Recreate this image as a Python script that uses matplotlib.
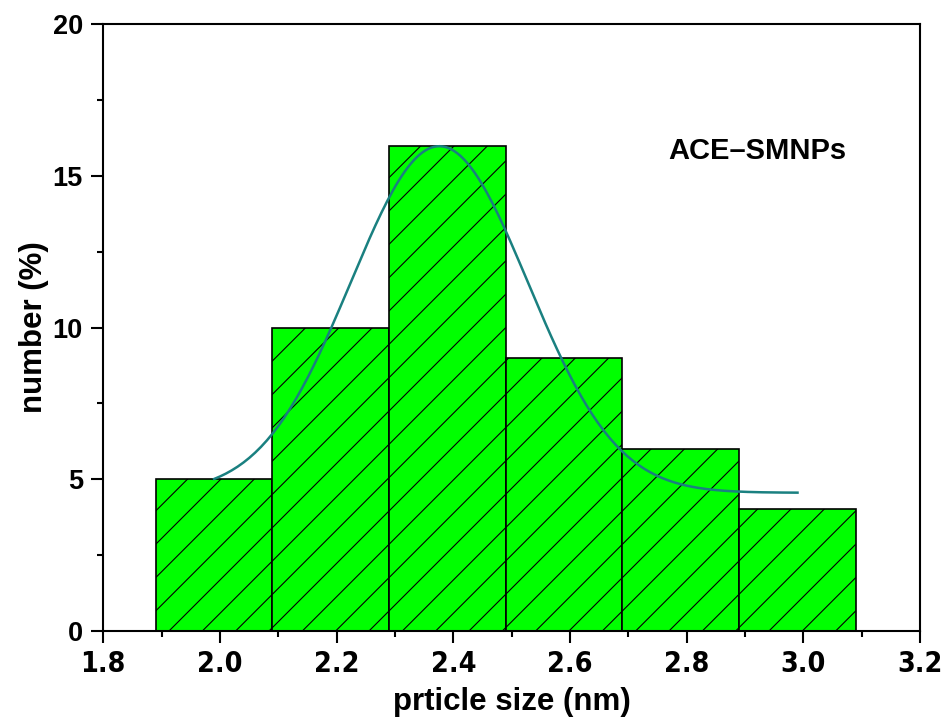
import numpy as np
from matplotlib import pyplot as plt
from matplotlib import font_manager
from matplotlib.ticker import MultipleLocator

# histogram bins (centres, nm) and counts (%)
bin_centres = [1.99, 2.19, 2.39, 2.59, 2.79, 2.99]
bin_width = 0.2
number_pct = [5, 10, 16, 9, 6, 4]

# Gauss fit: y0 + A*exp(-(x-xc)^2 / (2 w^2))
fit_y0 = 4.55
fit_A = 11.43
fit_xc = 2.376
fit_w = 0.152
fit_range = (1.99, 2.99)

x_ticks = [1.8, 2.0, 2.2, 2.4, 2.6, 2.8, 3.0, 3.2]
y_ticks = [0, 5, 10, 15, 20]


def narrow_font():
    # x tick labels are in a narrow face, use one if there is one
    for fam, stretch in [('Liberation Sans Narrow', 'normal'),
                         ('DejaVu Sans', 'condensed')]:
        fp = font_manager.FontProperties(family=fam, weight='bold', stretch=stretch)
        try:
            path = font_manager.findfont(fp, fallback_to_default=False)
        except ValueError:
            continue
        if 'Narrow' in path or 'Condensed' in path:
            return font_manager.FontProperties(fname=path)
    return None


plt.rcParams['hatch.linewidth'] = 0.8

fig = plt.figure(figsize=(9.44, 7.19), dpi=100)
ax = fig.add_axes([0.1094, 0.1228, 0.8652, 0.8434])

ax.bar(bin_centres, number_pct, width=bin_width, color='#00ff00',
       edgecolor='black', linewidth=1.2, hatch='/', zorder=2)

xs = np.linspace(fit_range[0], fit_range[1], 200)
ys = fit_y0 + fit_A * np.exp(-(xs - fit_xc) ** 2 / (2 * fit_w ** 2))
ax.plot(xs, ys, color='#1a8080', lw=1.8, zorder=3)

ax.set_xlim(1.8, 3.2)
ax.set_ylim(0, 20)
ax.set_xticks(x_ticks)
ax.set_yticks(y_ticks)
ax.xaxis.set_minor_locator(MultipleLocator(0.1))
ax.yaxis.set_minor_locator(MultipleLocator(2.5))

ax.tick_params(which='major', direction='out', length=8.6, width=1.5)
ax.tick_params(which='minor', direction='out', length=4.5, width=1.5)
ax.tick_params(top=False, right=False, which='both')
for sp in ax.spines.values():
    sp.set_linewidth(1.5)

nf = narrow_font()
if nf is not None:
    nf.set_size(20.5)
    ax.set_xticklabels([f'{t:.1f}' for t in x_ticks], fontproperties=nf)
else:
    ax.set_xticklabels([f'{t:.1f}' for t in x_ticks], family='Liberation Sans',
                       fontweight='bold', fontsize=18)
ax.set_yticklabels([str(t) for t in y_ticks], family='Liberation Sans',
                   fontweight='bold', fontsize=19.5)
ax.tick_params(axis='x', pad=5)
ax.tick_params(axis='y', pad=6)

ax.set_xlabel('prticle size (nm)', family='Liberation Sans', fontweight='bold',
              fontsize=22.5, labelpad=7)
ax.set_ylabel('number (%)', family='Liberation Sans', fontweight='bold',
              fontsize=22.5, labelpad=3)

ax.text(2.768, 15.83, 'ACE\u2013SMNPs', family='Liberation Sans',
        fontweight='bold', fontsize=21, va='center', ha='left')

fig.savefig('out.png', dpi=100)
